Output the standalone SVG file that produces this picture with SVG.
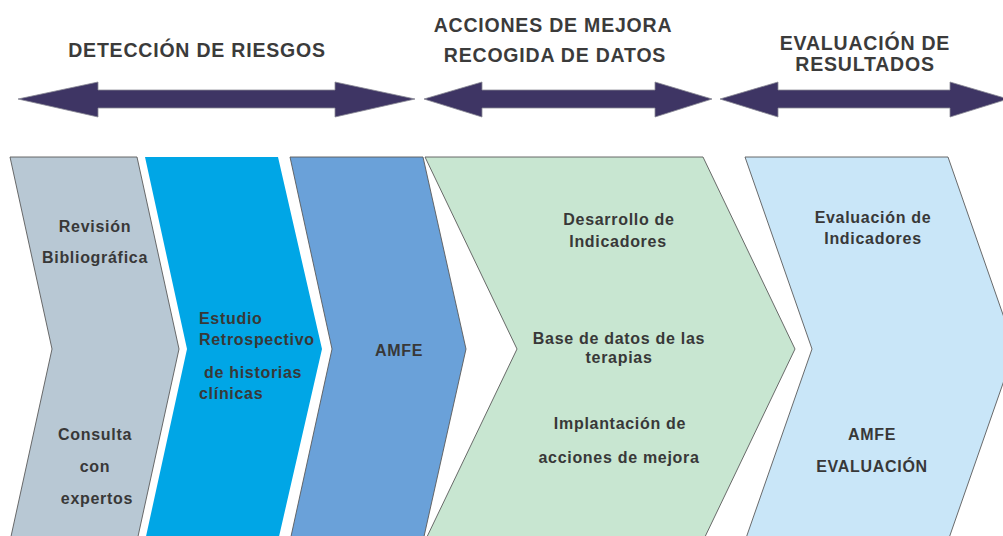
<svg xmlns="http://www.w3.org/2000/svg" width="1003" height="536" viewBox="0 0 1003 536">
<style>
.bg{fill:#ffffff}
.chev{stroke:#5a5a5a;stroke-width:0.9;stroke-linejoin:miter}
.arrow{fill:#3e3564;stroke:#8a8a96;stroke-width:0.8}
.title{font-family:"Liberation Sans",Arial,sans-serif;font-weight:bold;font-size:19.5px;fill:#3b3b3b;letter-spacing:0.8px;text-anchor:middle}
.lbl{font-family:"Liberation Sans",Arial,sans-serif;font-weight:bold;font-size:16px;fill:#383838;letter-spacing:0.7px;text-anchor:middle}
.lblL{font-family:"Liberation Sans",Arial,sans-serif;font-weight:bold;font-size:16px;fill:#383838;letter-spacing:0.7px}
</style>
<rect class="bg" x="0" y="0" width="1003" height="536"/>

<g id="titles">
<text class="title" x="197" y="57">DETECCIÓN DE RIESGOS</text>
<text class="title" x="553" y="32">ACCIONES DE MEJORA</text>
<text class="title" x="555" y="62">RECOGIDA DE DATOS</text>
<text class="title" x="865" y="50">EVALUACIÓN DE</text>
<text class="title" x="865" y="71">RESULTADOS</text>
</g>

<g id="phase-arrows">
<polygon class="arrow" points="18,99 98,82 98,90 335,90 335,82 415,99 335,117 335,108 98,108 98,117"/>
<polygon class="arrow" points="424,99 482,82 482,90 655,90 655,82 712,99 655,117 655,108 482,108 482,117"/>
<polygon class="arrow" points="720,99 778,82 778,90 950,90 950,82 1008,99 950,117 950,108 778,108 778,117"/>
</g>

<g id="node-revision">
<polygon class="chev" fill="#b8c8d4" points="10,157 137,157 179,349 137,541 10,541 52,349"/>
<text class="lbl" x="95" y="232">Revisión</text>
<text class="lbl" x="95" y="263">Bibliográfica</text>
<text class="lbl" x="95" y="440">Consulta</text>
<text class="lbl" x="95" y="472">con</text>
<text class="lbl" x="97" y="504">expertos</text>
</g>

<g id="node-estudio">
<polygon fill="#00a6e6" points="145,157 278,157 322,349 278,541 145,541 187,349"/>
<text class="lblL" x="199" y="324">Estudio</text>
<text class="lblL" x="199" y="345">Retrospectivo</text>
<text class="lblL" x="204" y="378">de historias</text>
<text class="lblL" x="199" y="399">clínicas</text>
</g>

<g id="node-amfe">
<polygon class="chev" fill="#6aa1d9" points="290,157 423,157 466,349 423,541 290,541 332,349"/>
<text class="lbl" x="399" y="356">AMFE</text>
</g>

<g id="node-acciones">
<polygon class="chev" fill="#c8e6d1" points="425,157 703,157 795,349 703,541 425,541 517,349"/>
<text class="lbl" x="619" y="225">Desarrollo de</text>
<text class="lbl" x="618" y="247">Indicadores</text>
<text class="lbl" x="619" y="344">Base de datos de las</text>
<text class="lbl" x="619" y="363">terapias</text>
<text class="lbl" x="620" y="429">Implantación de</text>
<text class="lbl" x="619" y="463">acciones de mejora</text>
</g>

<g id="node-evaluacion">
<polygon class="chev" fill="#c9e6f8" points="745,157 948,157 1015,349 948,541 745,541 812,349"/>
<text class="lbl" x="873" y="223">Evaluación de</text>
<text class="lbl" x="873" y="244">Indicadores</text>
<text class="lbl" x="872" y="440">AMFE</text>
<text class="lbl" x="872" y="472">EVALUACIÓN</text>
</g>
</svg>
